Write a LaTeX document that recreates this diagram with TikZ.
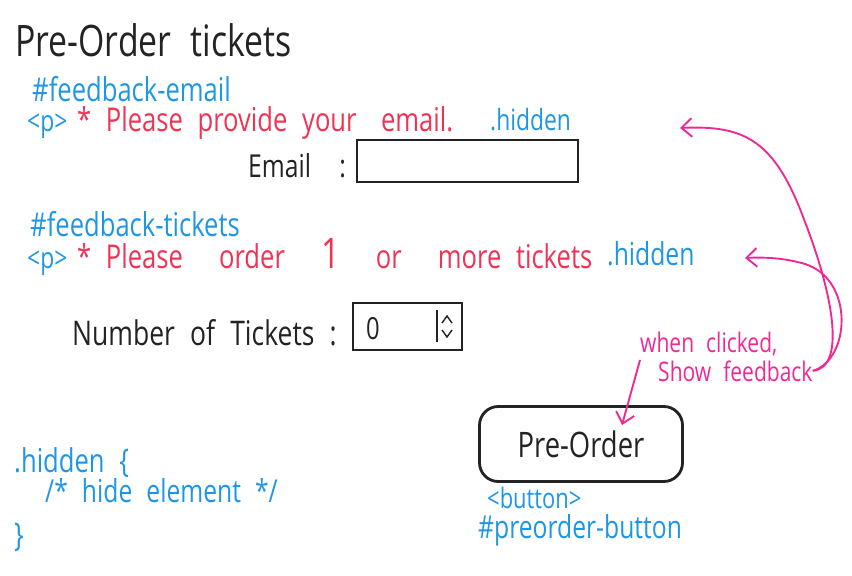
\documentclass[tikz,border=0pt]{standalone}
\usepackage{fontspec}
\newfontfamily\hand[FakeStretch=0.78,WordSpace=2.2]{Open Sans}
\usetikzlibrary{arrows.meta,positioning}
\definecolor{inkblue}{RGB}{30,150,230}
\definecolor{inkred}{RGB}{240,50,85}
\definecolor{inkpink}{RGB}{240,40,150}
\definecolor{inkblack}{RGB}{35,35,35}
\newcommand{\wgap}{\hspace{1.1em}}
\tikzset{
	hw/.style={anchor=base west, inner sep=0pt, font=\hand\fontsize{#1}{#1}\selectfont},
	hw/.default=24,
	codetxt/.style={hw=#1, text=inkblue},
	codetxt/.default=28,
	msgtxt/.style={hw=28, text=inkred},
	labeltxt/.style={hw=#1, text=inkblack},
	labeltxt/.default=27,
	notetxt/.style={hw=23, text=inkpink},
	inputbox/.style={draw=inkblack, line width=2.4pt},
	note/.style={draw=inkpink, line width=1.6pt, -{Straight Barb[length=9pt,width=16pt,line width=1.6pt]}}
}
\begin{document}
\begin{tikzpicture}[x=0.3mm, y=-0.3mm]
	\useasboundingbox (0,0) rectangle (852,576);
	% title
	\node[labeltxt=37] (title) at (15,57) {Pre-Order tickets};
	% email feedback
	\node[codetxt] (fbemail) at (32,102) {\#feedback-email};
	\node[codetxt=25] (pone) at (27,132) {<p>};
	\node[msgtxt] (msgemail) at (77,132) {* Please provide your\hspace{0.3em} email.};
	\node[codetxt=25] (hidone) at (490,131) {.hidden};
	\node[labeltxt] (emaillbl) at (248,178) {Email\ \ :};
	\draw[inputbox] (357,140) rectangle (578,182);
	% tickets feedback
	\node[codetxt] (fbtickets) at (30,237) {\#feedback-tickets};
	\node[codetxt=25] (ptwo) at (27,269) {<p>};
	\node[msgtxt] (msgtickets) at (77,269)
		{* Please\wgap order\wgap {\fontsize{36}{36}\selectfont 1}\wgap or\wgap more tickets};
	\node[codetxt=27] (hidtwo) at (607,266) {.hidden};
	\node[labeltxt=29] (ticketslbl) at (72,345) {Number of Tickets :};
	\draw[inputbox] (353,303) rectangle (462,350);
	\node[labeltxt=26] (zero) at (366,339) {0};
	\draw[inkblack, line width=1.6pt] (437,310) -- (437,342);
	\draw[inkblack, line width=1.2pt] (442,323) -- (447,316) -- (452,323);
	\draw[inkblack, line width=1.2pt] (442,330) -- (447,337) -- (452,330);
	% button
	\node[draw=inkblack, line width=2.4pt, rounded corners=16pt, minimum width=203*0.3mm, minimum height=75*0.3mm,
		inner sep=0pt, font=\hand\fontsize{30}{30}\selectfont, text=inkblack] (button) at (581,444) {Pre-Order};
	\node[codetxt=24] (btntag) at (487,508) {<button>};
	\node[codetxt=27] (btnid) at (478,538) {\#preorder-button};
	% css rule
	\node[codetxt] (cssone) at (14,472) {.hidden \{};
	\node[codetxt=27] (csstwo) at (45,502) {/* hide element */};
	\node[codetxt] (cssthree) at (14,546) {\}};
	% note
	\node[notetxt] (clickone) at (640,352) {when clicked,};
	\node[notetxt] (clicktwo) at (658,381) {Show feedback};
	\coordinate (emailtip) at (680,128);
	\coordinate (ticketstip) at (745,258);
	\coordinate (buttontip) at (622,425);
	\draw[note] (clicktwo.east) .. controls (845,368) and (835,300) .. (805,222)
		.. controls (775,140) and (745,125) .. (emailtip);
	\draw[note] (clicktwo.east) .. controls (850,360) and (855,280) .. (805,264)
		.. controls (785,258) and (765,257) .. (ticketstip);
	\draw[note] (640,360) -- (buttontip);
\end{tikzpicture}
\end{document}
